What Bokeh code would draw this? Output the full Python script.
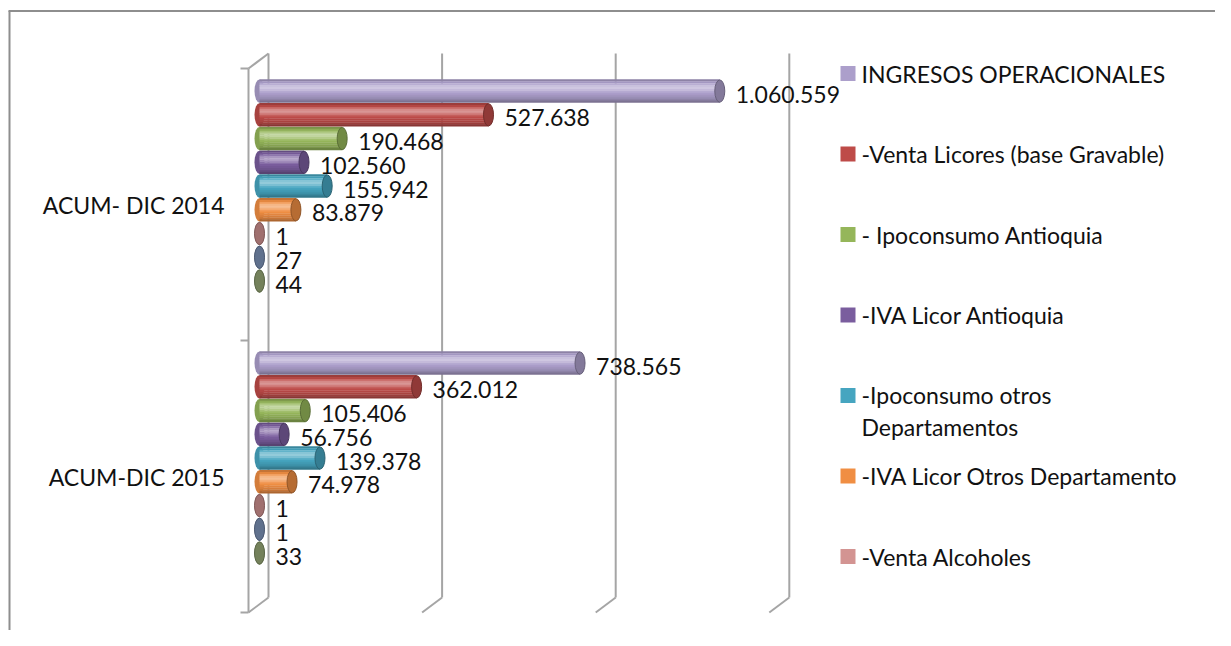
from bokeh.plotting import figure
from bokeh.models import Range1d, ColumnDataSource
from bokeh.core.properties import value
from bokeh.embed import file_html
from bokeh.resources import INLINE

# ---------------- data ----------------
categories = ["ACUM- DIC 2014", "ACUM-DIC 2015"]
series_names = [
    "INGRESOS OPERACIONALES",
    "-Venta Licores (base Gravable)",
    "- Ipoconsumo Antioquia",
    "-IVA Licor Antioquia",
    "-Ipoconsumo otros Departamentos",
    "-IVA Licor Otros Departamento",
    "-Venta Alcoholes",
    "-Serie 8",
    "-Serie 9",
]
values_2014 = [1060559, 527638, 190468, 102560, 155942, 83879, 1, 27, 44]
values_2015 = [738565, 362012, 105406, 56756, 139378, 74978, 1, 1, 33]
series_colors = ["#AC9FCB", "#BE4B48", "#95B65A", "#7A5D9E", "#46A5C0",
                 "#F08E43", "#D39492", "#7E95BA", "#98AA78"]
x_ticks = [0, 400000, 800000, 1200000]
legend_count = 7          # the source legend is clipped after seven entries

# ---------------- layout constants ----------------
W, H = 1215, 630
PXU = 434 / 1e6           # pixels per value unit
X0 = 259                  # pixel of value 0
BAND = 272                # pixel height of one category band
Y_TOP = 68                # pixel of top of first band
BAR_H = 0.0855            # bar thickness in band units
BAR_STEP = 0.0873
BAR_OFF0 = -0.417
FONT = value("Lato")
FS = "23px"

p = figure(width=W, height=H, output_backend="svg", toolbar_location=None,
           x_range=Range1d(-X0 / PXU, (W - X0) / PXU),
           y_range=Range1d((H - Y_TOP) / BAND, -Y_TOP / BAND),
           x_axis_location=None, y_axis_location=None,
           min_border=0, outline_line_color=None)
p.grid.visible = False
p.background_fill_color = "white"
p.border_fill_color = "white"
p.extra_x_ranges = {"px": Range1d(0, W)}
p.extra_y_ranges = {"py": Range1d(H, 0)}

# ---------------- chart border (top & left visible) ----------------
p.segment(x0=[8, 9], y0=[10.5, 10.5], x1=[W, 9], y1=[10.5, H],
          x_range_name="px", y_range_name="py",
          line_color="#8E8E8E", line_width=2)

# ---------------- 3D walls / gridlines ----------------
bdx = 9 / PXU
fdx = -11 / PXU
ddy = -15 / BAND
nb = len(categories)
sx0, sy0, sx1, sy1 = [], [], [], []
for t in x_ticks:
    sx0 += [t + bdx, t + bdx]
    sy0 += [ddy, nb + ddy]
    sx1 += [t + bdx, t + fdx]
    sy1 += [nb + ddy, nb]
# front axis + top diagonal
sx0 += [fdx, fdx]
sy0 += [0, 0]
sx1 += [fdx, bdx]
sy1 += [nb, ddy]
# tick marks at category boundaries
for b in range(nb + 1):
    sx0.append(fdx - 8 / PXU)
    sy0.append(b)
    sx1.append(fdx)
    sy1.append(b)
p.segment(x0=sx0, y0=sy0, x1=sx1, y1=sy1, line_color="#A5A5A5", line_width=2)


# ---------------- bars (cylinders) ----------------
def shade(hex_color, f):
    c = [int(hex_color[i:i + 2], 16) for i in (1, 3, 5)]
    if f >= 1:
        c = [v + (255 - v) * min(1.0, (f - 1) * 2.2) for v in c]
    else:
        c = [v * f for v in c]
    return "#%02x%02x%02x" % tuple(int(max(0, min(255, round(v)))) for v in c)


rows = []
all_values = [values_2014, values_2015]
for ci, vals in enumerate(all_values):
    for si, v in enumerate(vals):
        y = ci + 0.5 + BAR_OFF0 + si * BAR_STEP
        rows.append((ci, si, v, y))

profile = [0.82, 0.95, 1.07, 1.16, 1.19, 1.13, 1.05, 0.99, 0.94, 0.89, 0.82, 0.72]
N = len(profile)

# far end (left) cap
p.ellipse(x=[0] * len(rows), y=[r[3] for r in rows],
          width=10, height=BAR_H * BAND, width_units="screen", height_units="screen",
          fill_color=[shade(series_colors[r[1]], 0.88) for r in rows], line_color=None)

for k, f in enumerate(profile):
    ys = [r[3] - BAR_H / 2 + (k + 0.5) * BAR_H / N for r in rows]
    src = ColumnDataSource(dict(
        y=ys, right=[r[2] for r in rows],
        color=[shade(series_colors[r[1]], f) for r in rows]))
    p.hbar(y="y", left=0, right="right", height=BAR_H / N * 1.15, source=src,
           fill_color="color", line_color=None)

# near end caps
cap_src = ColumnDataSource(dict(
    x=[r[2] for r in rows], y=[r[3] for r in rows],
    fill=[shade(series_colors[r[1]], 0.76) for r in rows],
    line=[shade(series_colors[r[1]], 0.6) for r in rows]))
p.ellipse(x="x", y="y", width=10, height=BAR_H * BAND - 1,
          width_units="screen", height_units="screen", source=cap_src,
          fill_color="fill", line_color="line", line_width=1)

# ---------------- data labels ----------------
lab_src = ColumnDataSource(dict(
    x=[r[2] for r in rows], y=[r[3] for r in rows],
    text=[f"{r[2]:,}".replace(",", ".") for r in rows]))
p.text(x="x", y="y", text="text", source=lab_src, x_offset=16, y_offset=3,
       text_font=FONT, text_font_size=FS, text_baseline="middle",
       text_align="left", text_color="#111111")

# ---------------- category labels ----------------
p.text(x=[224] * nb, y=[i + 0.5 for i in range(nb)], text=categories,
       x_range_name="px", text_font=FONT, text_font_size=FS,
       text_baseline="middle", text_align="right", text_color="#111111")

# ---------------- legend ----------------
LEG_X = 847.5
LEG_Y0 = 73
LEG_DY = 80.5
leg_names = series_names[:legend_count]
leg_text, leg_yoff = [], []
for n in leg_names:
    if len(n) > 30:
        a, b = n.rsplit(" ", 1)
        leg_text.append(a + "\n" + b)
        leg_yoff.append(15.5)
    else:
        leg_text.append(n)
        leg_yoff.append(0)
leg_y = [LEG_Y0 + i * LEG_DY for i in range(legend_count)]
p.scatter(x=[LEG_X] * legend_count, y=leg_y, marker="square", size=15,
          fill_color=series_colors[:legend_count], line_color=None,
          x_range_name="px", y_range_name="py")
leg_src = ColumnDataSource(dict(x=[LEG_X + 13.5] * legend_count, y=leg_y,
                                text=leg_text, yoff=leg_yoff))
p.text(x="x", y="y", text="text", y_offset="yoff", source=leg_src,
       x_range_name="px", y_range_name="py", text_font=FONT, text_font_size=FS,
       text_baseline="middle", text_align="left", text_color="#111111",
       text_line_height=1.12)

open("out.html", "w").write(file_html(p, INLINE))
